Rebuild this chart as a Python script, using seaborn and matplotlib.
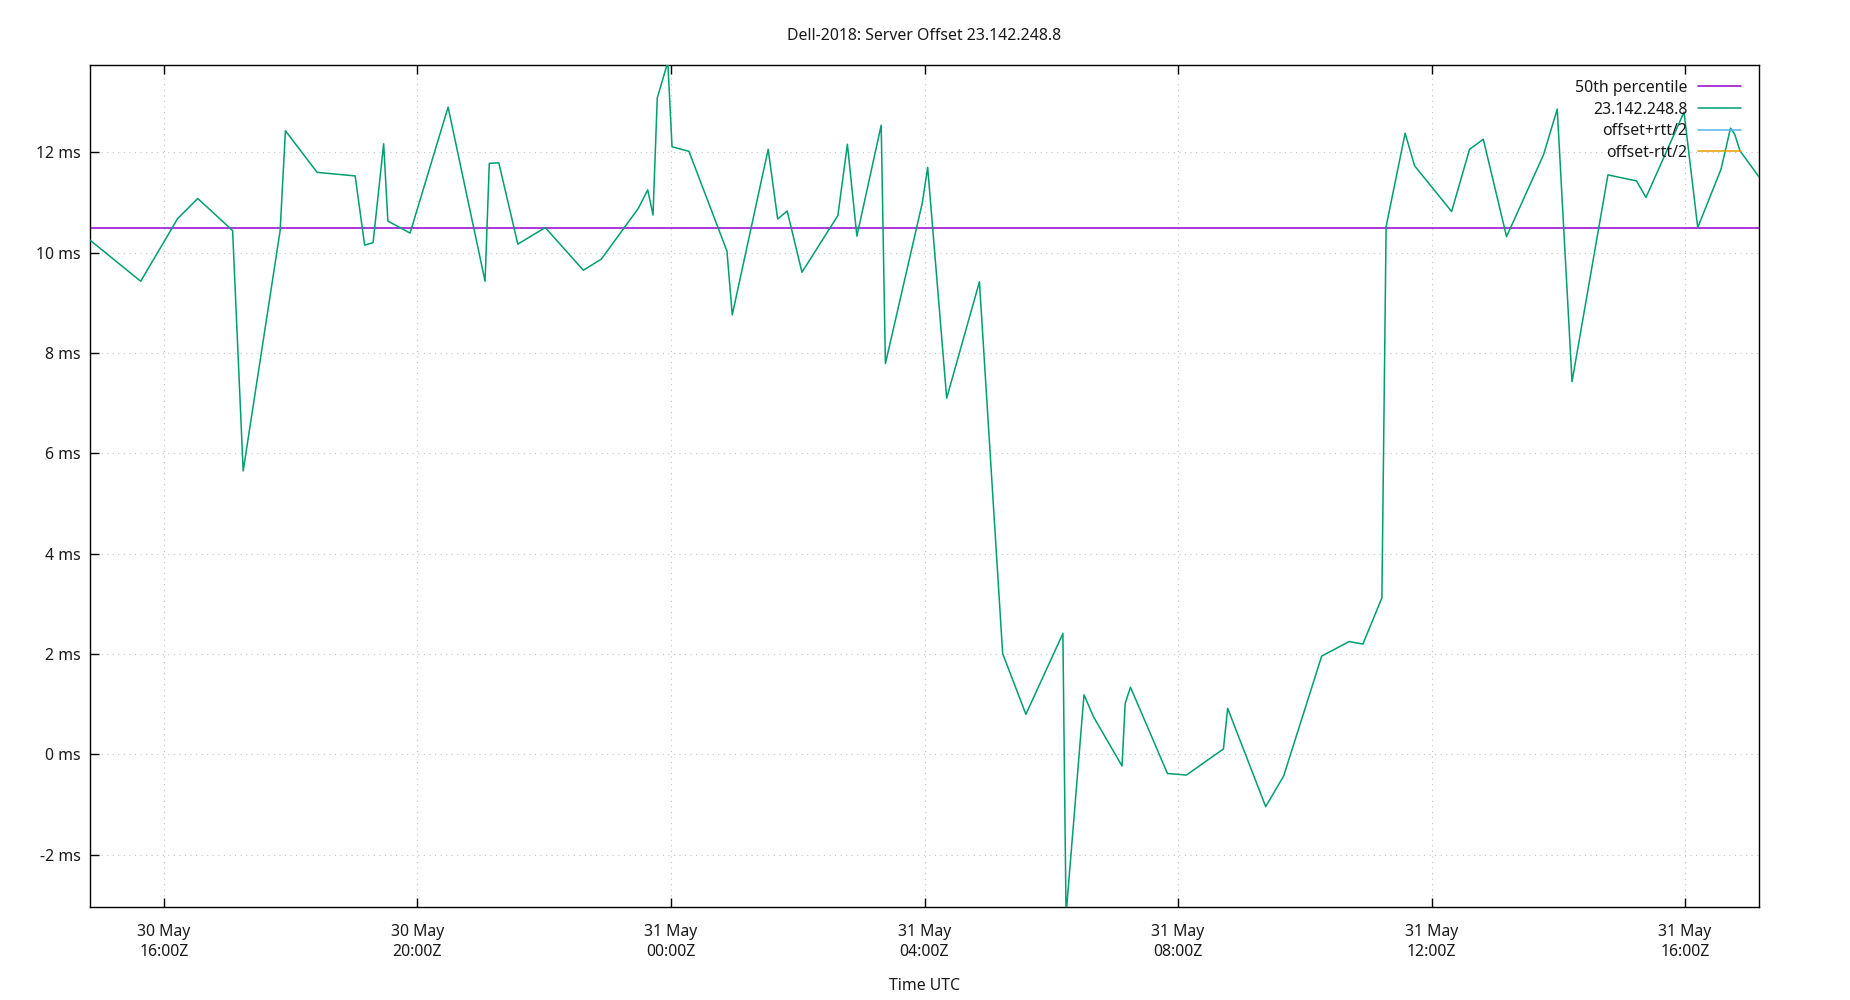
import matplotlib
matplotlib.use("Agg")
import matplotlib.pyplot as plt
import matplotlib.dates as mdates
from matplotlib.lines import Line2D
import seaborn as sns
import pandas as pd

# ---------------- data ----------------
chart_title = "Dell-2018: Server Offset 23.142.248.8"
server_name = "23.142.248.8"
x_label = "Time UTC"

times = [
    "2018-05-30 14:50", "2018-05-30 15:38", "2018-05-30 16:13", "2018-05-30 16:32",
    "2018-05-30 17:05", "2018-05-30 17:15", "2018-05-30 17:50", "2018-05-30 17:55",
    "2018-05-30 18:25", "2018-05-30 19:01", "2018-05-30 19:10", "2018-05-30 19:18",
    "2018-05-30 19:28", "2018-05-30 19:32", "2018-05-30 19:53", "2018-05-30 20:29",
    "2018-05-30 21:04", "2018-05-30 21:08", "2018-05-30 21:17", "2018-05-30 21:35",
    "2018-05-30 22:01", "2018-05-30 22:37", "2018-05-30 22:54", "2018-05-30 23:29",
    "2018-05-30 23:38", "2018-05-30 23:43", "2018-05-30 23:47", "2018-05-30 23:57",
    "2018-05-31 00:01", "2018-05-31 00:17", "2018-05-31 00:53", "2018-05-31 00:58",
    "2018-05-31 01:32", "2018-05-31 01:41", "2018-05-31 01:50", "2018-05-31 02:04",
    "2018-05-31 02:38", "2018-05-31 02:47", "2018-05-31 02:56", "2018-05-31 03:19",
    "2018-05-31 03:23", "2018-05-31 03:58", "2018-05-31 04:03", "2018-05-31 04:21",
    "2018-05-31 04:52", "2018-05-31 05:14", "2018-05-31 05:36", "2018-05-31 06:11",
    "2018-05-31 06:14", "2018-05-31 06:31", "2018-05-31 06:40", "2018-05-31 07:07",
    "2018-05-31 07:10", "2018-05-31 07:15", "2018-05-31 07:50", "2018-05-31 08:08",
    "2018-05-31 08:43", "2018-05-31 08:47", "2018-05-31 09:23", "2018-05-31 09:40",
    "2018-05-31 10:16", "2018-05-31 10:42", "2018-05-31 10:55", "2018-05-31 11:13",
    "2018-05-31 11:17", "2018-05-31 11:35", "2018-05-31 11:44", "2018-05-31 12:19",
    "2018-05-31 12:36", "2018-05-31 12:49", "2018-05-31 13:11", "2018-05-31 13:46",
    "2018-05-31 13:59", "2018-05-31 14:13", "2018-05-31 14:47", "2018-05-31 15:14",
    "2018-05-31 15:23", "2018-05-31 15:59", "2018-05-31 16:12", "2018-05-31 16:34",
    "2018-05-31 16:43", "2018-05-31 16:47", "2018-05-31 16:52", "2018-05-31 17:10",
]

offsets_ms = [
    10.25, 9.43, 10.68, 11.08,
    10.44, 5.65, 10.44, 12.43,
    11.60, 11.53, 10.15, 10.20,
    12.17, 10.63, 10.39, 12.90,
    9.43, 11.78, 11.79, 10.17,
    10.50, 9.65, 9.87, 10.88,
    11.25, 10.75, 13.08, 13.80,
    12.11, 12.02, 10.03, 8.76,
    12.06, 10.67, 10.83, 9.61,
    10.74, 12.16, 10.33, 12.54,
    7.79, 11.00, 11.70, 7.10,
    9.42, 2.01, 0.80, 2.41,
    -3.20, 1.19, 0.75, -0.23,
    1.02, 1.34, -0.38, -0.41,
    0.11, 0.92, -1.04, -0.43,
    1.96, 2.25, 2.20, 3.12,
    10.52, 12.38, 11.73, 10.82,
    12.06, 12.26, 10.32, 11.95,
    12.86, 7.43, 11.55, 11.43,
    11.10, 12.80, 10.50, 11.66,
    12.48, 12.36, 12.03, 11.51,
]

percentile_50_ms = 10.5

y_ticks = [-2, 0, 2, 4, 6, 8, 10, 12]
y_tick_labels = ["-2 ms", "0 ms", "2 ms", "4 ms", "6 ms", "8 ms", "10 ms", "12 ms"]
y_limits = [-3.04, 13.74]

legend_labels = ["50th percentile", server_name, "offset+rtt/2", "offset-rtt/2"]
legend_colors = ["#9400d3", "#009e73", "#56b4e9", "#e69f00"]

# ---------------- styling ----------------
sns.set_theme(style="white")
plt.rcParams["font.family"] = ["Noto Sans", "DejaVu Sans"]
FS = 11.4
TXT = "#1a1a1a"

df = pd.DataFrame({"time": pd.to_datetime(times), "offset": offsets_ms})

W, H = 1850, 1000
fig, ax = plt.subplots(figsize=(W / 100, H / 100), dpi=100)
fig.subplots_adjust(left=90 / W, right=1759 / W, top=1 - 65 / H, bottom=1 - 907 / H)

# percentile line first, data on top
ax.axhline(percentile_50_ms, color=legend_colors[0], linewidth=1.1, zorder=2)
sns.lineplot(data=df, x="time", y="offset", ax=ax, color=legend_colors[1],
             linewidth=1.1, estimator=None, sort=False, zorder=3, legend=False)

ax.set_xlim(df["time"].min(), df["time"].max())
ax.set_ylim(*y_limits)
ax.set_yticks(y_ticks)
ax.set_yticklabels(y_tick_labels)

ax.xaxis.set_major_locator(mdates.HourLocator(byhour=[0, 4, 8, 12, 16, 20]))
ax.xaxis.set_major_formatter(mdates.DateFormatter("%d %b\n%H:%MZ"))

ax.grid(True, which="major", color="#c4c4c4", linestyle=(0, (1, 4)), linewidth=0.8)
for s in ax.spines.values():
    s.set_color("black")
    s.set_linewidth(1.0)
    s.set_visible(True)

ax.tick_params(axis="both", direction="in", length=6.5, width=1.0, color="black",
               labelsize=FS, labelcolor=TXT)
ax.tick_params(axis="x", top=True, bottom=True, pad=12)
ax.tick_params(axis="y", left=True, right=False, pad=6.5)
for lbl in ax.get_xticklabels():
    lbl.set_linespacing(1.4)

ax.set_xlabel(x_label, fontsize=FS, color=TXT)
ax.xaxis.set_label_coords(924.5 / W, 1 - 986 / H, transform=fig.transFigure)
ax.xaxis.label.set_va("center")
ax.set_ylabel("")

fig.text(924.5 / W, 1 - 35.5 / H, chart_title, ha="center", va="center",
         fontsize=FS, color=TXT)

handles = [Line2D([], [], color=c, linewidth=1.1) for c in legend_colors]
leg = ax.legend(handles, legend_labels, loc="upper right",
                bbox_to_anchor=((1741 - 90) / 1669, 1 - 15 / 842),
                frameon=False, markerfirst=False, fontsize=FS,
                handlelength=2.7, handletextpad=0.7, labelspacing=0.355,
                borderaxespad=0, borderpad=0)
for t in leg.get_texts():
    t.set_color(TXT)

fig.savefig("out.png", dpi=100)
